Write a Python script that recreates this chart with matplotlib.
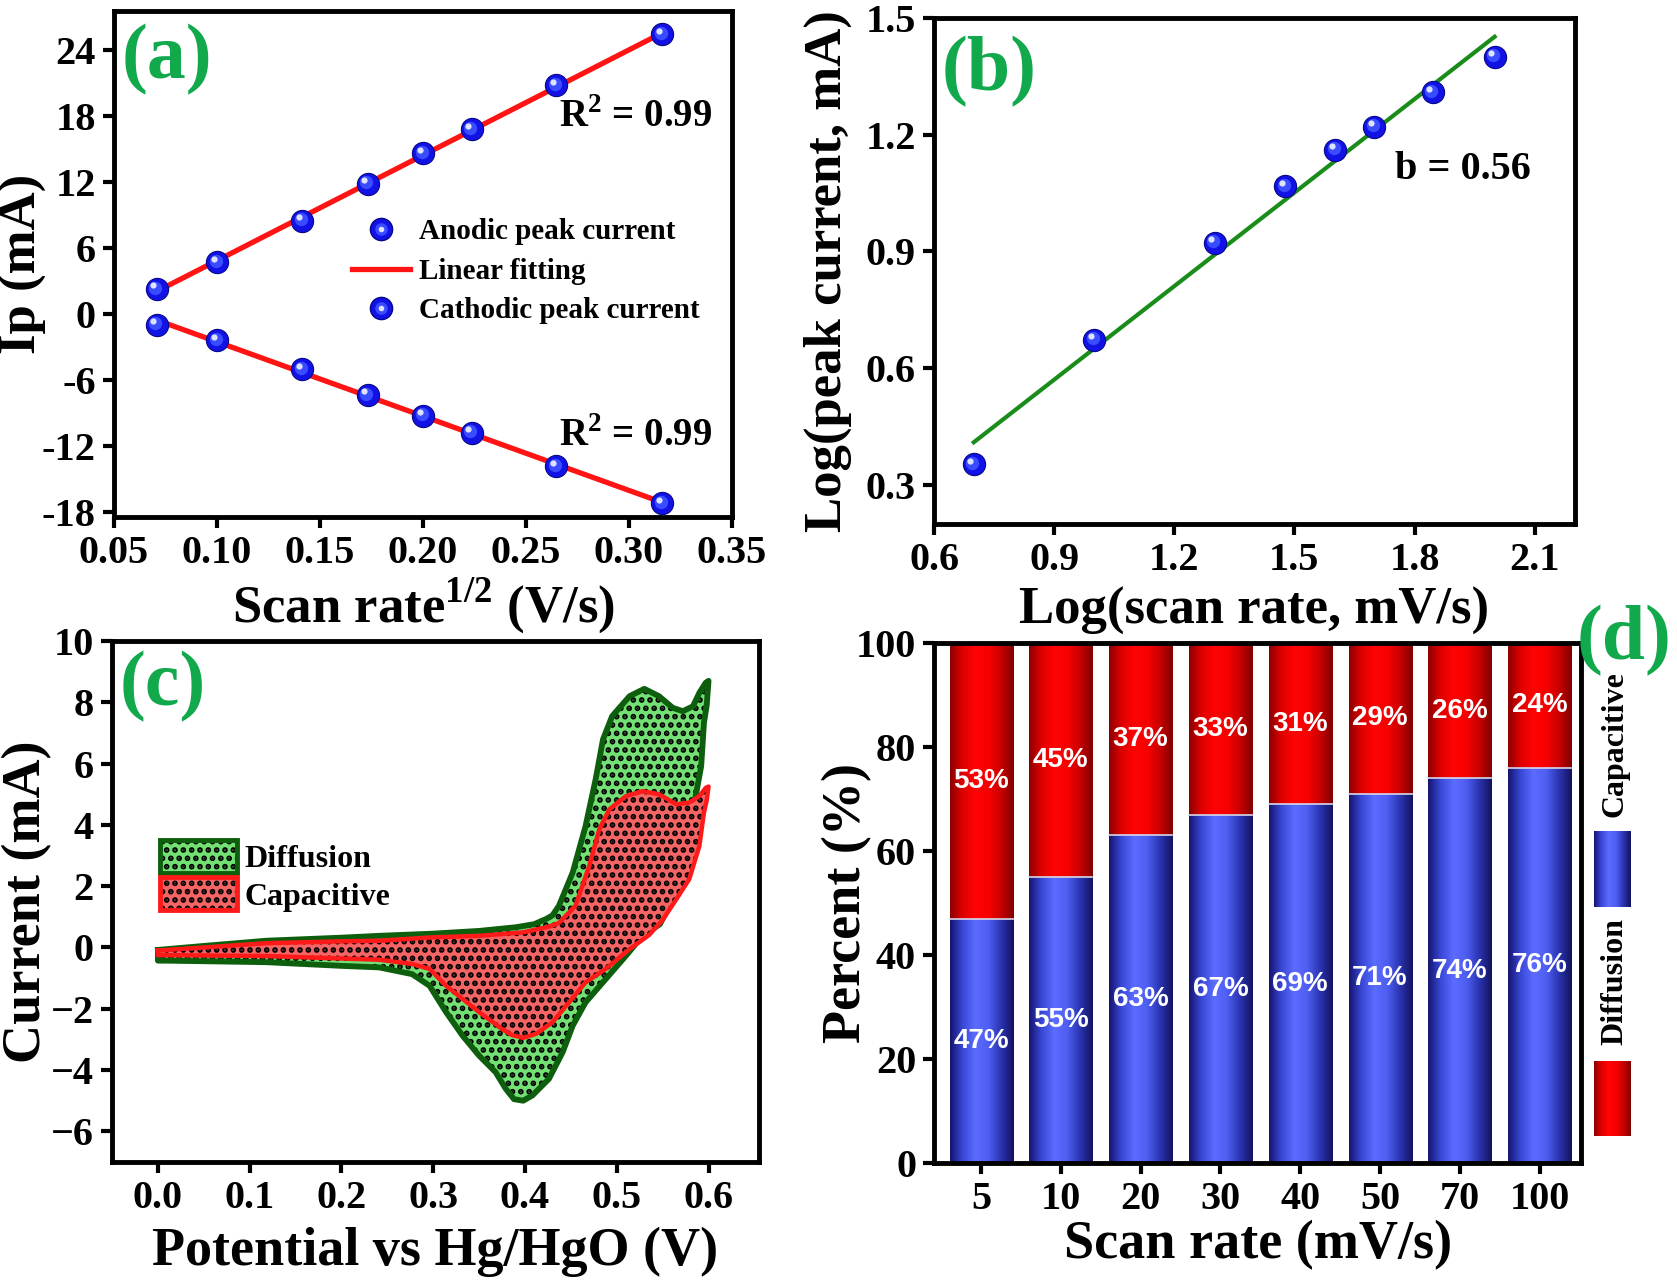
import numpy as np
import matplotlib
matplotlib.use("Agg")
import matplotlib.pyplot as plt
from matplotlib import transforms
from matplotlib.colors import LinearSegmentedColormap
from matplotlib.lines import Line2D
from matplotlib.patches import Patch
from matplotlib.legend_handler import HandlerTuple
from matplotlib.ticker import FuncFormatter

plt.rcParams['font.family'] = ['Liberation Serif', 'DejaVu Serif']
plt.rcParams['font.weight'] = 'bold'
plt.rcParams['axes.labelweight'] = 'bold'
plt.rcParams['axes.unicode_minus'] = False
plt.rcParams['mathtext.fontset'] = 'custom'
plt.rcParams['mathtext.rm'] = 'Liberation Serif:bold'
plt.rcParams['mathtext.bf'] = 'Liberation Serif:bold'
plt.rcParams['hatch.linewidth'] = 2.8

# ---- data ----
# (a) peak current vs sqrt(scan rate)
sr_sqrt = [0.0707, 0.1000, 0.1414, 0.1732, 0.2000, 0.2236, 0.2646, 0.3162]
ip_anodic = [2.26, 4.71, 8.46, 11.81, 14.59, 16.75, 20.75, 25.37]
ip_cathodic = [-0.98, -2.42, -5.02, -7.36, -9.24, -10.79, -13.85, -17.21]

# (b) log-log
log_rate = [0.699, 1.000, 1.301, 1.477, 1.602, 1.699, 1.845, 2.000]
log_ip = [0.353, 0.673, 0.923, 1.068, 1.161, 1.221, 1.309, 1.400]

# (c) CV loop (total = diffusion region) and capacitive loop
cv_total_v = [0.000, 0.050, 0.118, 0.200, 0.241, 0.299, 0.350, 0.390, 0.410, 0.423,
              0.430, 0.437, 0.452, 0.466, 0.477, 0.485, 0.495, 0.514, 0.530, 0.546,
              0.561, 0.572, 0.583, 0.590, 0.597, 0.600,
              0.598, 0.595, 0.592, 0.586, 0.574, 0.560, 0.547, 0.528, 0.510, 0.488,
              0.466, 0.452, 0.441, 0.426, 0.408, 0.398, 0.388, 0.379, 0.368, 0.350,
              0.332, 0.314, 0.296, 0.277, 0.241, 0.200, 0.118, 0.009, 0.000]
cv_total_i = [-0.08, 0.05, 0.22, 0.32, 0.38, 0.45, 0.54, 0.66, 0.76, 0.93,
              1.05, 1.36, 2.45, 3.96, 5.49, 6.79, 7.55, 8.20, 8.44, 8.20,
              7.82, 7.71, 7.87, 8.31, 8.64, 8.70,
              7.90, 7.33, 5.92, 4.94, 2.41, 1.50, 0.76, 0.38, -0.27, -1.03,
              -1.79, -2.55, -3.42, -4.29, -4.83, -5.00, -4.95, -4.61, -4.07, -3.53,
              -2.88, -2.11, -1.25, -0.87, -0.65, -0.60, -0.48, -0.43, -0.43]
cv_cap_v = [0.000, 0.050, 0.118, 0.200, 0.241, 0.299, 0.350, 0.397, 0.426, 0.437,
            0.455, 0.470, 0.481, 0.492, 0.510, 0.528, 0.546, 0.565, 0.579, 0.590,
            0.597, 0.600,
            0.598, 0.595, 0.590, 0.579, 0.565, 0.550, 0.535, 0.514, 0.488, 0.466,
            0.448, 0.430, 0.412, 0.398, 0.385, 0.375, 0.350, 0.314, 0.296, 0.277,
            0.241, 0.118, 0.010, 0.000]
cv_cap_i = [-0.10, 0.00, 0.14, 0.20, 0.22, 0.33, 0.38, 0.49, 0.68, 0.80,
            1.36, 2.66, 3.86, 4.51, 4.94, 5.10, 5.00, 4.67, 4.73, 4.94,
            5.21, 5.25,
            4.80, 4.40, 3.31, 2.23, 1.58, 0.90, 0.40, -0.05, -0.70, -1.14,
            -1.79, -2.44, -2.82, -2.95, -2.85, -2.66, -2.11, -1.25, -0.70, -0.54,
            -0.40, -0.28, -0.25, -0.25]

# (d) contribution percentages
rates = ['5', '10', '20', '30', '40', '50', '70', '100']
cap_pct = [47, 55, 63, 67, 69, 71, 74, 76]
diff_pct = [53, 45, 37, 33, 31, 29, 26, 24]

LABEL_GREEN = '#12a84c'
TICK_FS = 29
LAB_FS = 38
PANEL_FS = 56

fig = plt.figure(figsize=(16.77, 12.81), dpi=100)
ax_a = fig.add_axes([0.068, 0.5964, 0.3685, 0.395])
ax_b = fig.add_axes([0.557, 0.591, 0.382, 0.395])
ax_c = fig.add_axes([0.0668, 0.0929, 0.3858, 0.4067])
ax_d = fig.add_axes([0.557, 0.0921, 0.3858, 0.406])


def style(ax):
    for s in ax.spines.values():
        s.set_linewidth(3.5)
    ax.tick_params(direction='out', length=8, width=3, labelsize=TICK_FS,
                   top=False, right=False, pad=5)


def spheres(ax, x, y, size=16):
    """blue balls with a little highlight"""
    base = ax.plot(x, y, 'o', ms=size, color='#1212e6', mec='#06068a', mew=0.8,
                   ls='none', zorder=5)[0]
    t1 = transforms.offset_copy(ax.transData, fig=fig, x=-1.0, y=1.0, units='points')
    t2 = transforms.offset_copy(ax.transData, fig=fig, x=-2.5, y=2.5, units='points')
    ax.plot(x, y, 'o', ms=size * 0.6, color='#3a4cff', mew=0, ls='none',
            transform=t1, zorder=6)
    ax.plot(x, y, 'o', ms=size * 0.28, color='#dde3ff', mew=0, ls='none',
            transform=t2, zorder=7)
    return base


# ---------------- (a) ----------------
style(ax_a)
xa = np.array(sr_sqrt)
pa = np.polyfit(xa, ip_anodic, 1)
pc = np.polyfit(xa, ip_cathodic, 1)
xfit = np.array([xa[0], xa[-1]])
ax_a.plot(xfit, np.polyval(pa, xfit), color='#ff1414', lw=3.8, zorder=4)
ax_a.plot(xfit, np.polyval(pc, xfit), color='#ff1414', lw=3.8, zorder=4)
spheres(ax_a, sr_sqrt, ip_anodic)
spheres(ax_a, sr_sqrt, ip_cathodic)
ax_a.set_xlim(0.05, 0.35)
ax_a.set_ylim(-18.45, 27.5)
ax_a.set_xticks(np.arange(0.05, 0.351, 0.05))
ax_a.set_yticks(np.arange(-18, 25, 6))
ax_a.xaxis.set_major_formatter(FuncFormatter(lambda v, p: f'{v:.2f}'))
ax_a.set_xlabel(r'Scan rate$^{\mathbf{1/2}}$ (V/s)', fontsize=LAB_FS)
ax_a.set_ylabel('Ip (mA)', fontsize=LAB_FS)
ax_a.yaxis.set_label_coords(-0.108, 0.5)
ax_a.xaxis.set_label_coords(0.5, -0.115)
ax_a.text(0.72, 0.79, r'R$^{\mathbf{2}}$ = 0.99', transform=ax_a.transAxes,
          fontsize=28, ha='left', va='center')
ax_a.text(0.72, 0.16, r'R$^{\mathbf{2}}$ = 0.99', transform=ax_a.transAxes,
          fontsize=28, ha='left', va='center')
h_ball = Line2D([], [], marker='o', ms=16, color='#1212e6', mec='#06068a', ls='none')
h_mid = Line2D([], [], marker='o', ms=9, color='#3a4cff', mew=0, ls='none')
h_hi = Line2D([], [], marker='o', ms=4, color='#dde3ff', mew=0, ls='none')
h_fit = Line2D([], [], color='#ff1414', lw=3.8)
ax_a.legend([(h_ball, h_mid, h_hi), h_fit, (h_ball, h_mid, h_hi)],
            ['Anodic peak current', 'Linear fitting', 'Cathodic peak current'],
            handler_map={tuple: HandlerTuple(ndivide=1)},
            loc='upper left', bbox_to_anchor=(0.385, 0.59), frameon=False,
            fontsize=21, handlelength=2.0, handletextpad=0.3, labelspacing=0.42,
            borderpad=0, borderaxespad=0)
ax_a.text(0.012, 0.975, '(a)', transform=ax_a.transAxes, fontsize=PANEL_FS,
          color=LABEL_GREEN, va='top', ha='left')

# ---------------- (b) ----------------
style(ax_b)
pb = np.polyfit(log_rate, log_ip, 1)
xb = np.array([log_rate[0], log_rate[-1]])
ax_b.plot(xb, np.polyval(pb, xb), color='#1a8c1a', lw=3, zorder=4)
spheres(ax_b, log_rate, log_ip)
ax_b.set_xlim(0.6, 2.2)
ax_b.set_ylim(0.2, 1.5)
ax_b.set_xticks(np.arange(0.6, 2.11, 0.3))
ax_b.set_yticks(np.arange(0.3, 1.51, 0.3))
ax_b.xaxis.set_major_formatter(FuncFormatter(lambda v, p: f'{v:.1f}'))
ax_b.yaxis.set_major_formatter(FuncFormatter(lambda v, p: f'{v:.1f}'))
ax_b.set_xlabel('Log(scan rate, mV/s)', fontsize=LAB_FS)
ax_b.set_ylabel('Log(peak current, mA)', fontsize=LAB_FS)
ax_b.yaxis.set_label_coords(-0.128, 0.5)
ax_b.xaxis.set_label_coords(0.5, -0.125)
ax_b.text(0.72, 0.70, 'b = 0.56', transform=ax_b.transAxes, fontsize=29,
          ha='left', va='center')
ax_b.text(0.012, 0.965, '(b)', transform=ax_b.transAxes, fontsize=PANEL_FS,
          color=LABEL_GREEN, va='top', ha='left')

# ---------------- (c) ----------------
style(ax_c)
ax_c.fill(cv_total_v, cv_total_i, facecolor='#72e072', edgecolor='black',
          linewidth=0, hatch='..', zorder=1)
ax_c.plot(cv_total_v + cv_total_v[:1], cv_total_i + cv_total_i[:1],
          color='#0d5e0d', lw=4.2, solid_joinstyle='round', zorder=2)
ax_c.fill(cv_cap_v, cv_cap_i, facecolor='#f46464', edgecolor='black',
          linewidth=0, hatch='..', zorder=3)
ax_c.plot(cv_cap_v + cv_cap_v[:1], cv_cap_i + cv_cap_i[:1],
          color='#ff1a1a', lw=3.2, solid_joinstyle='round', zorder=4)
ax_c.set_xlim(-0.05, 0.655)
ax_c.set_ylim(-7, 10)
ax_c.set_xticks(np.arange(0, 0.61, 0.1))
ax_c.set_yticks(np.arange(-6, 11, 2))
ax_c.xaxis.set_major_formatter(FuncFormatter(lambda v, p: f'{v:.1f}'))
ax_c.yaxis.set_major_formatter(
    FuncFormatter(lambda v, p: f'{v:.0f}'.replace('-', '\u2212')))
ax_c.set_xlabel('Potential vs Hg/HgO (V)', fontsize=LAB_FS + 1)
ax_c.set_ylabel('Current (mA)', fontsize=LAB_FS + 1)
ax_c.yaxis.set_label_coords(-0.093, 0.5)
ax_c.xaxis.set_label_coords(0.5, -0.125)
hd = (Patch(facecolor='#72e072', edgecolor='black', lw=0, hatch='..'),
      Patch(facecolor='none', edgecolor='#0d5e0d', lw=3.5))
hc = (Patch(facecolor='#f46464', edgecolor='black', lw=0, hatch='..'),
      Patch(facecolor='none', edgecolor='#ff1a1a', lw=3.5))
ax_c.legend([hd, hc], ['Diffusion', 'Capacitive'],
            handler_map={tuple: HandlerTuple(ndivide=1)},
            loc='upper left', bbox_to_anchor=(0.074, 0.618), frameon=False,
            fontsize=23, handlelength=2.4, handleheight=1.2, handletextpad=0.25,
            labelspacing=0.1, borderpad=0, borderaxespad=0)
ax_c.text(0.012, 0.98, '(c)', transform=ax_c.transAxes, fontsize=PANEL_FS,
          color=LABEL_GREEN, va='top', ha='left')

# ---------------- (d) ----------------
style(ax_d)
xd = np.arange(len(rates))
blue_cm = LinearSegmentedColormap.from_list(
    'bl', ['#14146e', '#3a48d8', '#5b6cff', '#4e5ef2', '#2a34b0', '#12125e'])
red_cm = LinearSegmentedColormap.from_list(
    'rd', ['#8c0000', '#e00000', '#ff0404', '#f80000', '#c80000', '#800000'])
bars_cap = ax_d.bar(xd, cap_pct, width=0.79, color='#4a5cf0', edgecolor='none')
bars_diff = ax_d.bar(xd, diff_pct, width=0.79, bottom=cap_pct, color='#ee0000',
                     edgecolor='none')
grad = np.linspace(0, 1, 256).reshape(1, -1)
for bars, cm in ((bars_cap, blue_cm), (bars_diff, red_cm)):
    for b in bars:
        x0, y0, w, h = b.get_x(), b.get_y(), b.get_width(), b.get_height()
        ax_d.imshow(grad, cmap=cm, extent=[x0, x0 + w, y0, y0 + h],
                    aspect='auto', interpolation='bilinear', zorder=2)
for b in bars_cap:
    top = b.get_y() + b.get_height()
    ax_d.plot([b.get_x(), b.get_x() + b.get_width()], [top, top],
              color='#d8d8e8', lw=1.2, zorder=3)
for b, v in zip(bars_cap, cap_pct):
    ax_d.text(b.get_x() + b.get_width() / 2, b.get_y() + b.get_height() / 2,
              f'{v}%', color='white', ha='center', va='center', fontsize=20,
              family='Liberation Sans', weight='bold', zorder=4)
for b, v in zip(bars_diff, diff_pct):
    ax_d.text(b.get_x() + b.get_width() / 2, b.get_y() + b.get_height() / 2,
              f'{v}%', color='white', ha='center', va='center', fontsize=20,
              family='Liberation Sans', weight='bold', zorder=4)
ax_d.set_xticks(xd)
ax_d.set_xticklabels(rates)
ax_d.set_yticks(np.arange(0, 101, 20))
ax_d.set_xlabel('Scan rate (mV/s)', fontsize=LAB_FS + 1)
ax_d.set_ylabel('Percent (%)', fontsize=LAB_FS + 1)
ax_d.yaxis.set_label_coords(-0.096, 0.5)
ax_d.xaxis.set_label_coords(0.5, -0.11)

# rotated legend on the right of (d)
ax_d.imshow(grad, cmap=red_cm, extent=[1.02, 1.077, 0.052, 0.196],
            transform=ax_d.transAxes, aspect='auto', clip_on=False, zorder=2)
ax_d.imshow(grad, cmap=blue_cm, extent=[1.02, 1.077, 0.492, 0.637],
            transform=ax_d.transAxes, aspect='auto', clip_on=False, zorder=2)
ax_d.text(1.052, 0.348, 'Diffusion', rotation=90, transform=ax_d.transAxes,
          ha='center', va='center', fontsize=23)
ax_d.text(1.052, 0.806, 'Capacitive', rotation=90, transform=ax_d.transAxes,
          ha='center', va='center', fontsize=23)
ax_d.set_xlim(-0.59, 7.52)
ax_d.set_ylim(0, 100)
fig.text(0.940, 0.528, '(d)', fontsize=PANEL_FS, color=LABEL_GREEN,
         ha='left', va='top')

fig.savefig('out.png', dpi=100)
